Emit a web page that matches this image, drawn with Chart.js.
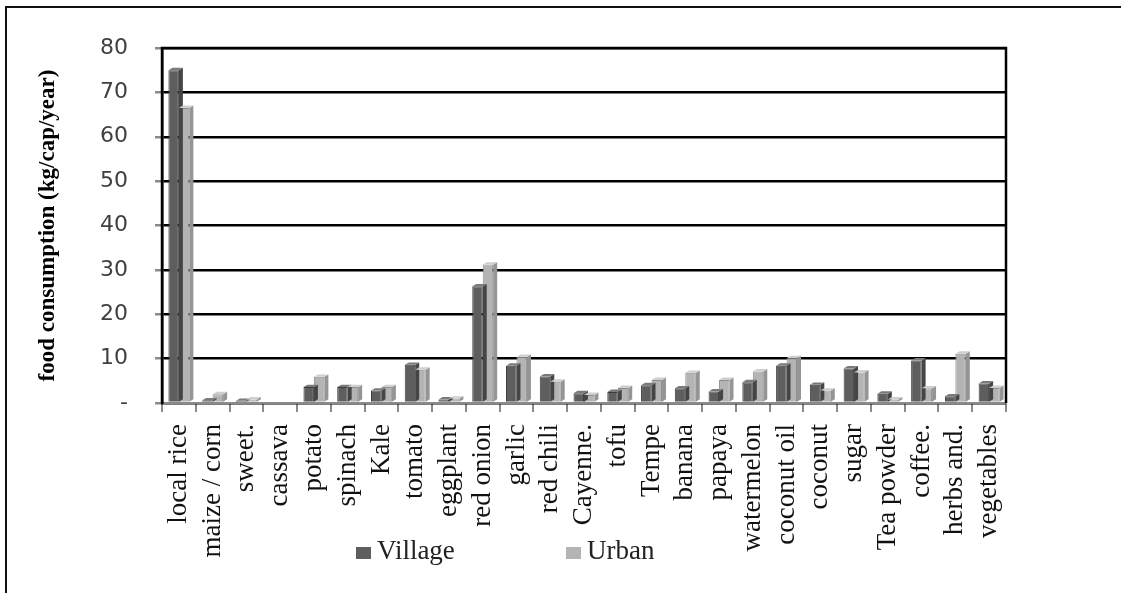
<!DOCTYPE html>
<html>
<head>
<meta charset="utf-8">
<script src="https://cdn.jsdelivr.net/npm/chart.js@4/dist/chart.umd.min.js"></script>
<style>
  html, body { margin: 0; padding: 0; background: #fff; }
  #wrap { position: relative; width: 1121px; height: 593px; }
  #frame { position: absolute; left: 5px; top: 6px; right: 0; bottom: 0;
           border-left: 2px solid #111; border-top: 2px solid #111; }
  #grafico { position: absolute; left: 0; top: 0; }
  .legenda { position: absolute; top: 535px; font: 27px "Liberation Serif", serif; color: #222; }
  .legenda span.caixa { display: inline-block; width: 15px; height: 12px; margin-right: 6px; }
</style>
</head>
<body>
<div id="wrap">
  <div id="frame"></div>
  <canvas id="grafico" width="1121" height="593"></canvas>
  <div class="legenda" id="legVillage" style="left:356px"><span class="caixa"></span>Village</div>
  <div class="legenda" id="legUrban" style="left:566px"><span class="caixa"></span>Urban</div>
</div>
<script>
// Categorias e valores (kg/cap/ano)
const categorias = ['local rice', 'maize / corn', 'sweet.', 'cassava', 'potato', 'spinach', 'Kale',
    'tomato', 'eggplant', 'red onion', 'garlic', 'red chili', 'Cayenne.', 'tofu', 'Tempe', 'banana',
    'papaya', 'watermelon', 'coconut oil', 'coconut', 'sugar', 'Tea powder', 'coffee.', 'herbs and.',
    'vegetables'];
const village = [75, 0.6, 0.5, 0.3, 3.6, 3.6, 2.8, 8.6, 0.8, 26.3, 8.4, 6.0, 2.2, 2.5, 4.0, 3.3,
    2.6, 4.7, 8.4, 4.1, 7.8, 2.1, 9.6, 1.5, 4.4];
const urban = [66.5, 2.0, 0.8, 0.3, 5.9, 3.6, 3.6, 7.5, 1.0, 31.2, 10.4, 4.8, 1.8, 3.4, 5.2, 6.8,
    5.2, 7.1, 10.1, 2.8, 6.9, 0.8, 3.3, 11.1, 3.4];
const series = ['Village', 'Urban'];
const cores = ['#5e5e5e', '#b4b4b4'];
const coresLado = ['#454545', '#959595'];
const coresTopo = ['#7a7a7a', '#cfcfcf'];
const ticksY = { min: 0, max: 80, passo: 10 };

// Legenda em HTML (cores vindas das mesmas listas)
document.querySelector('#legVillage .caixa').style.background = cores[0];
document.querySelector('#legUrban .caixa').style.background = cores[1];

// Moldura da área do gráfico (lados e topo)
const moldura = {
    id: 'moldura',
    afterDraw(chart) {
        const { ctx, chartArea: a } = chart;
        ctx.save();
        ctx.strokeStyle = '#000';
        ctx.lineWidth = 2.5;
        ctx.beginPath();
        ctx.moveTo(a.left, a.bottom);
        ctx.lineTo(a.left, a.top);
        ctx.lineTo(a.right, a.top);
        ctx.lineTo(a.right, a.bottom);
        ctx.stroke();
        ctx.restore();
    }
};

// Efeito 3D simples: face lateral e topo de cada barra
const efeito3d = {
    id: 'efeito3d',
    afterDatasetsDraw(chart) {
        const { ctx } = chart;
        const d = 4;
        ctx.save();
        chart.data.datasets.forEach((ds, i) => {
            chart.getDatasetMeta(i).data.forEach(bar => {
                const { x, y, width, base } = bar.getProps(['x', 'y', 'width', 'base'], true);
                const l = x - width / 2, r = x + width / 2;
                if (base - y < 0.5) return;
                ctx.fillStyle = coresLado[i];
                ctx.beginPath();
                ctx.moveTo(r, y); ctx.lineTo(r + d, y - d * 0.6);
                ctx.lineTo(r + d, base - d * 0.6); ctx.lineTo(r, base);
                ctx.closePath(); ctx.fill();
                ctx.fillStyle = coresTopo[i];
                ctx.beginPath();
                ctx.moveTo(l, y); ctx.lineTo(l + d, y - d * 0.6);
                ctx.lineTo(r + d, y - d * 0.6); ctx.lineTo(r, y);
                ctx.closePath(); ctx.fill();
            });
        });
        ctx.restore();
    }
};

const ctx = document.getElementById('grafico').getContext('2d');
new Chart(ctx, {
    type: 'bar',
    data: {
        labels: categorias,
        datasets: [
            { label: series[0], data: village, backgroundColor: cores[0], borderColor: '#3c3c3c', borderWidth: 1 },
            { label: series[1], data: urban, backgroundColor: cores[1], borderColor: '#8f8f8f', borderWidth: 1 }
        ]
    },
    options: {
        responsive: false,
        animation: false,
        layout: { padding: { top: 48, right: 115, left: 0, bottom: 0 } },
        datasets: { bar: { categoryPercentage: 0.62, barPercentage: 1 } },
        plugins: { legend: { display: false }, tooltip: { enabled: false } },
        scales: {
            x: {
                grid: { drawOnChartArea: false, drawTicks: true, tickLength: 9, tickColor: '#8a8a8a', lineWidth: 2, offset: true },
                border: { color: '#8a8a8a', width: 2 },
                ticks: {
                    maxRotation: 90, minRotation: 90, autoSkip: false, padding: 12,
                    color: '#111', font: { family: '"Liberation Serif", serif', size: 27 }
                },
                afterFit(scale) { scale.height = 190; }
            },
            y: {
                min: ticksY.min, max: ticksY.max,
                grid: { color: '#000', lineWidth: 2.5, tickLength: 7, tickColor: '#8a8a8a' },
                border: { color: '#000', width: 2.5 },
                ticks: {
                    stepSize: ticksY.passo, padding: 27, color: '#404040',
                    font: { family: '"DejaVu Sans", sans-serif', size: 22 },
                    callback: v => v === 0 ? '-' : v
                },
                title: {
                    display: true, text: 'food consumption (kg/cap/year)', color: '#000',
                    font: { family: '"Liberation Serif", serif', size: 23, weight: 'bold' },
                    padding: { top: 34, bottom: 0 }
                },
                afterFit(scale) { scale.width = 162; }
            }
        }
    },
    plugins: [efeito3d, moldura]
});
</script>
</body>
</html>
